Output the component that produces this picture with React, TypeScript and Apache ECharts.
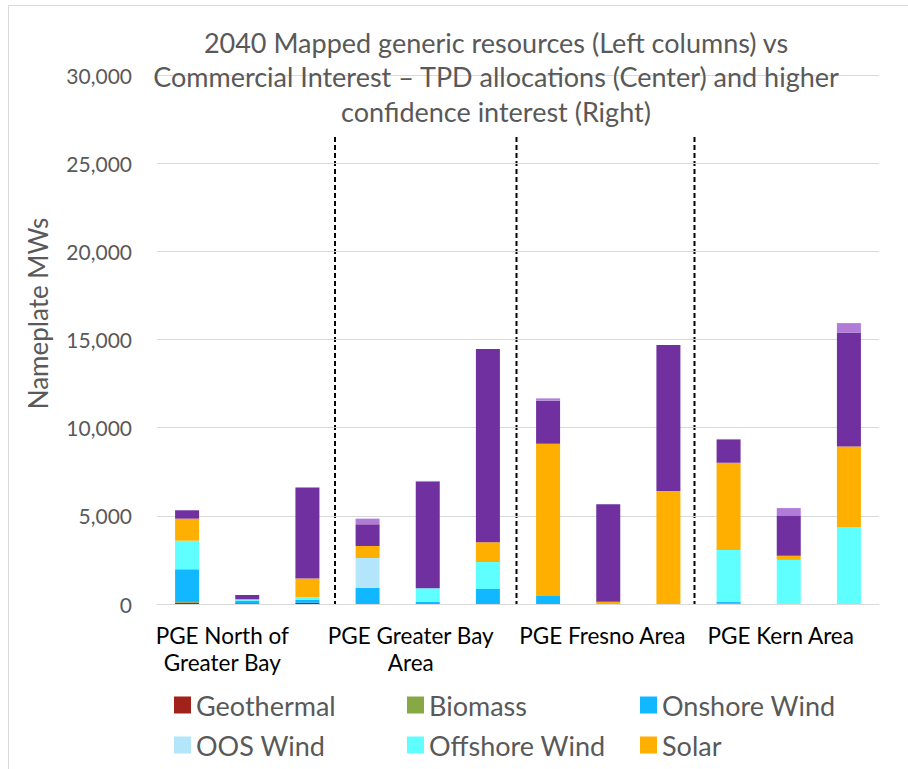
import React, { useEffect, useRef } from "react";
import * as echarts from "echarts";

const regions = ["PGE North of\nGreater Bay", "PGE Greater Bay\nArea", "PGE Fresno Area", "PGE Kern Area"];
const columns = ["Mapped generic", "TPD allocation", "Higher confidence"];
const categories = regions.flatMap((r) => columns.map((c) => r + "|" + c));

const yTicks = { min: 0, max: 30000, interval: 5000 };

const geothermal = [80, 40, 70, 0, 0, 0, 0, 0, 0, 20, 0, 0];
const biomass = [90, 0, 0, 0, 0, 0, 0, 0, 0, 40, 0, 0];
const onshoreWind = [1800, 150, 160, 910, 130, 850, 490, 0, 0, 60, 0, 0];
const oosWind = [0, 0, 0, 1700, 0, 0, 0, 0, 0, 0, 0, 0];
const offshoreWind = [1620, 75, 170, 0, 760, 1530, 0, 0, 0, 2940, 2500, 4370];
const solar = [1250, 0, 1040, 680, 0, 1120, 8600, 130, 6410, 4950, 240, 4560];
const storage = [475, 246, 5160, 1230, 6050, 10960, 2440, 5525, 8280, 1290, 2250, 6450];
const longDurationStorage = [0, 0, 0, 320, 40, 0, 130, 0, 0, 60, 450, 550];

const seriesDefs = [
  { name: "Geothermal", data: geothermal, color: "#A0221A" },
  { name: "Biomass", data: biomass, color: "#86A845" },
  { name: "Onshore Wind", data: onshoreWind, color: "#12B8FF" },
  { name: "OOS Wind", data: oosWind, color: "#B3E6FA" },
  { name: "Offshore Wind", data: offshoreWind, color: "#5FFFFF" },
  { name: "Solar", data: solar, color: "#FFAF00" },
  { name: "Battery Storage", data: storage, color: "#7030A0" },
  { name: "Long Duration Storage", data: longDurationStorage, color: "#B07CD8" },
];
const legendNames = ["Geothermal", "Biomass", "Onshore Wind", "OOS Wind", "Offshore Wind", "Solar"];

const FONT = "Lato";
const labelPadRight = [50, 34, 12, 16];

export default function App() {
  const ref = useRef<HTMLDivElement>(null);
  useEffect(() => {
    if (!ref.current) return;
    const chart = echarts.init(ref.current, undefined, { renderer: "svg" });
    const option = {
      animation: false,
      backgroundColor: "#fff",
      title: {
        text:
          "2040 Mapped generic resources (Left columns) vs\nCommercial Interest – TPD allocations (Center) and higher\nconfidence interest (Right)",
        left: 496,
        top: 25,
        padding: 0,
        textAlign: "center",
        textStyle: { fontFamily: FONT, fontSize: 27, lineHeight: 34.5, color: "#595959", fontWeight: "normal" },
      },
      legend: {
        data: legendNames,
        left: 174,
        top: 690,
        width: 700,
        padding: 0,
        itemWidth: 17,
        itemHeight: 17,
        itemGap: 10,
        icon: "rect",
        textStyle: { fontFamily: FONT, fontSize: 27, color: "#595959", width: 201, lineHeight: 30 },
      },
      grid: { left: 157, right: 29, top: 75, bottom: 165 },
      xAxis: {
        type: "category",
        data: categories.map((c, i) => ({
          value: c,
          textStyle: { padding: [0, labelPadRight[Math.floor(i / 3)], 0, 0] },
        })),
        axisLine: { lineStyle: { color: "#D9D9D9", width: 1 } },
        axisTick: { show: false },
        axisLabel: {
          interval: 0,
          margin: 18,
          fontFamily: FONT,
          fontSize: 22.5,
          lineHeight: 27,
          color: "#000",
          formatter: (v: string) => {
            const [r, c] = v.split("|");
            return c === columns[1] ? r : "";
          },
        },
      },
      yAxis: {
        type: "value",
        min: yTicks.min,
        max: yTicks.max,
        interval: yTicks.interval,
        name: "Nameplate MWs",
        nameLocation: "middle",
        nameGap: 106,
        nameTextStyle: { fontFamily: FONT, fontSize: 26, color: "#595959", padding: [0, 0, 0, 52] },
        axisLine: { show: false },
        axisTick: { show: false },
        splitLine: { lineStyle: { color: "#D9D9D9", width: 1 } },
        axisLabel: {
          margin: 25,
          fontFamily: FONT,
          fontSize: 21,
          color: "#595959",
          formatter: (v: number) => v.toLocaleString("en-US"),
        },
      },
      series: seriesDefs.map((s) => ({
        name: s.name,
        type: "bar",
        stack: "total",
        data: s.data,
        barWidth: 24,
        itemStyle: { color: s.color },
      })),
      graphic: [
        {
          type: "rect",
          shape: { x: 8.5, y: 5.5, width: 960, height: 820 },
          style: { fill: "none", stroke: "#D9D9D9", lineWidth: 1 },
          silent: true,
        },
        ...[335, 516.5, 694.5].map((x) => ({
          type: "line",
          shape: { x1: x, y1: 137, x2: x, y2: 604 },
          style: { stroke: "#000", lineWidth: 2, lineDash: [5, 3] },
          silent: true,
        })),
      ],
    };
    chart.setOption(option as any);
    return () => chart.dispose();
  }, []);
  return <div ref={ref} style={{ position: "absolute", left: 0, top: 0, width: 908, height: 769 }} />;
}
